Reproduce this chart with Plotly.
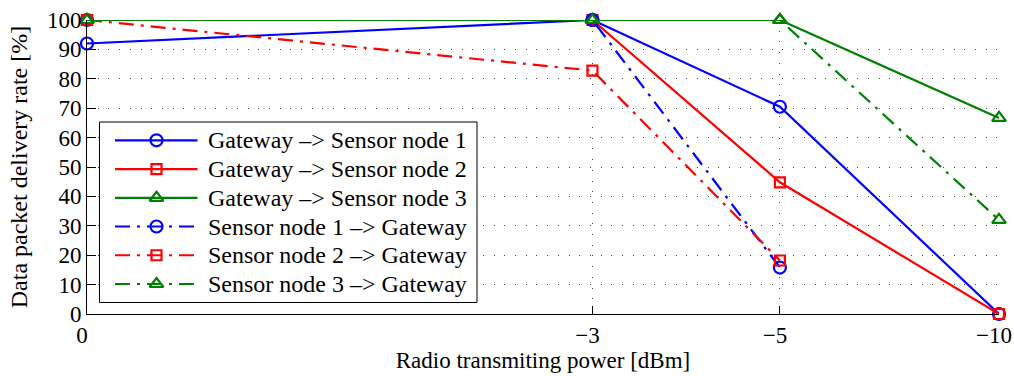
import plotly.graph_objects as go

# Transmit power settings (dBm) and the tick labels shown for them
power_dbm = [0, -3, -5, -10]
tick_labels = ["0", "\u22123", "\u22125", "\u221210"]

# Packet delivery rate [%] per link direction
gw_to_s1 = [92, 100, 70.5, 0]
gw_to_s2 = [100, 100, 44.8, 0]
gw_to_s3 = [100, 100, 100, 66.7]
s1_to_gw = [100, 100, 15.8, None]
s2_to_gw = [100, 82.8, 18.2, None]
s3_to_gw = [100, 100, 100, 32]

series_names = [
    "Gateway \u2013> Sensor node 1",
    "Gateway \u2013> Sensor node 2",
    "Gateway \u2013> Sensor node 3",
    "Sensor node 1 \u2013> Gateway",
    "Sensor node 2 \u2013> Gateway",
    "Sensor node 3 \u2013> Gateway",
]

# Axis is linear in milliwatts, labelled in dBm
power_mw = [10 ** (p / 10) for p in power_dbm]

BLUE = "#0000ff"
RED = "#ff0000"
GREEN = "#008000"
DASHDOT = "15px,7px,3px,7px"
FONT = "Liberation Serif, Times New Roman, serif"
FS = 24
TICK_FS = 23

styles = [
    (gw_to_s1, BLUE, "solid", "circle-open", 12),
    (gw_to_s2, RED, "solid", "square-open", 10),
    (gw_to_s3, GREEN, "solid", "triangle-up-open", 12),
    (s1_to_gw, BLUE, DASHDOT, "circle-open", 12),
    (s2_to_gw, RED, DASHDOT, "square-open", 10),
    (s3_to_gw, GREEN, DASHDOT, "triangle-up-open", 12),
]

fig = go.Figure()
for name, (vals, color, dash, symbol, msize) in zip(series_names, styles):
    fig.add_trace(go.Scatter(
        x=power_mw, y=vals, name=name, mode="lines+markers",
        line=dict(color=color, width=2.2, dash=dash),
        marker=dict(symbol=symbol, size=msize, color=color,
                    line=dict(color=color, width=2.2)),
        cliponaxis=False, showlegend=False,
    ))

# Legend drawn on an overlay axis measured in screen pixels
# (plot area spans x 87..999, y 20..314)
LEG_LEFT, LEG_RIGHT, LEG_TOP, LEG_BOTTOM = 99.5, 477, 122, 302.5
LEG_ROW0, LEG_ROW_STEP = 140.3, 28.74
KEY_X0, KEY_X1, KEY_MID, TEXT_X = 115, 197.5, 156.5, 205.5

fig.add_trace(go.Scatter(
    x=[LEG_LEFT, LEG_RIGHT, LEG_RIGHT, LEG_LEFT, LEG_LEFT],
    y=[LEG_TOP, LEG_TOP, LEG_BOTTOM, LEG_BOTTOM, LEG_TOP],
    mode="lines", fill="toself", fillcolor="white",
    line=dict(color="black", width=1),
    xaxis="x2", yaxis="y2", showlegend=False, hoverinfo="skip",
))

annotations = []
for i, (name, (vals, color, dash, symbol, msize)) in enumerate(zip(series_names, styles)):
    ry = LEG_ROW0 + i * LEG_ROW_STEP
    fig.add_trace(go.Scatter(
        x=[KEY_X0, KEY_X1], y=[ry, ry], mode="lines",
        line=dict(color=color, width=2.2, dash=dash),
        xaxis="x2", yaxis="y2", showlegend=False, hoverinfo="skip",
    ))
    fig.add_trace(go.Scatter(
        x=[KEY_MID], y=[ry], mode="markers",
        marker=dict(symbol=symbol, size=msize, color=color,
                    line=dict(color=color, width=2.2)),
        xaxis="x2", yaxis="y2", showlegend=False, hoverinfo="skip",
    ))
    annotations.append(dict(
        text=name, xref="x2", yref="y2", x=TEXT_X, y=ry,
        xanchor="left", yanchor="middle", showarrow=False,
        font=dict(family=FONT, size=FS, color="black"),
    ))

axis_common = dict(
    ticks="inside", tickcolor="black", tickwidth=1,
    showline=True, linecolor="black", linewidth=1, mirror=False,
    showgrid=True, gridcolor="#444444", gridwidth=1, griddash="1px,9.7px",
    zeroline=False, ticklabeloverflow="allow", automargin=False,
    tickfont=dict(family=FONT, size=TICK_FS, color="black"),
)

fig.update_layout(
    width=1014, height=376,
    margin=dict(l=87, r=15, t=20, b=62, autoexpand=False),
    paper_bgcolor="white", plot_bgcolor="white",
    font=dict(family=FONT, size=FS, color="black"),
    showlegend=False,
    annotations=annotations,
    xaxis=dict(
        range=[1, 0.1], autorange=False,
        tickmode="array", tickvals=power_mw, ticktext=tick_labels,
        ticklen=8, ticklabelshift=5,
        title=dict(text="Radio transmiting power [dBm]", standoff=0,
                   font=dict(family=FONT, size=23, color="black")),
        **axis_common,
    ),
    yaxis=dict(
        range=[0, 100], autorange=False,
        tickmode="linear", tick0=0, dtick=10,
        ticklen=9,
        title=dict(text="Data packet delivery rate [%]", standoff=12,
                   font=dict(family=FONT, size=FS, color="black")),
        **axis_common,
    ),
    xaxis2=dict(overlaying="x", range=[87, 999], visible=False,
                anchor="y2", fixedrange=True),
    yaxis2=dict(overlaying="y", range=[314, 20], visible=False,
                anchor="x2", fixedrange=True),
)

fig.write_html("out.html")
